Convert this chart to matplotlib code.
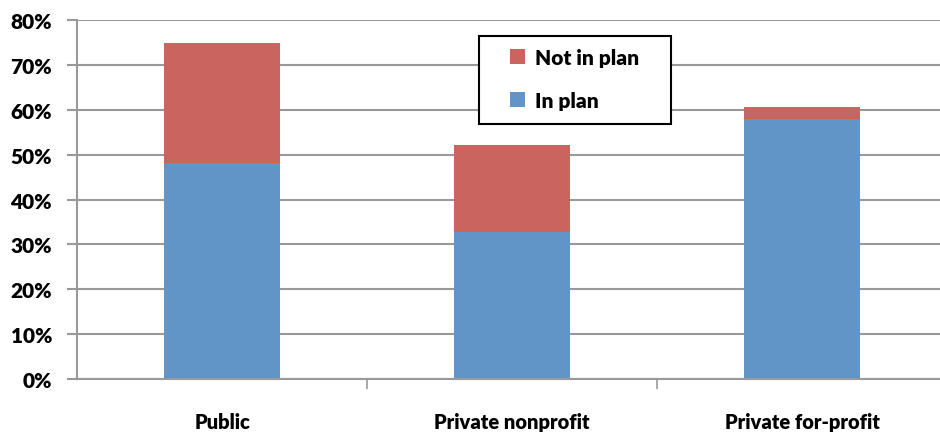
import matplotlib
matplotlib.use("Agg")
import matplotlib.pyplot as plt
from matplotlib.patches import Rectangle
from matplotlib.ticker import FixedLocator, PercentFormatter

categories = ["Public", "Private nonprofit", "Private for-profit"]
in_plan = [48.1, 32.7, 58.0]
not_in_plan = [26.8, 19.4, 2.6]
yticks = [0, 10, 20, 30, 40, 50, 60, 70, 80]

RED = "#C9645F"
BLUE = "#6194C7"
GRID = "#999999"

plt.rcParams["font.family"] = ["Lato", "DejaVu Sans"]
plt.rcParams["font.weight"] = "heavy"

W, H = 940, 435
fig = plt.figure(figsize=(W / 100, H / 100), dpi=100)
ax = fig.add_axes([77 / W, 1 - 380 / H, 870 / W, 359 / H])

x = range(len(categories))
b1 = ax.bar(x, in_plan, width=0.4, color=BLUE, label="In plan", zorder=3)
b2 = ax.bar(x, not_in_plan, width=0.4, bottom=in_plan, color=RED,
            label="Not in plan", zorder=3)

ax.set_xlim(-0.5, len(categories) - 0.5)
ax.set_ylim(0, 80)
ax.set_yticks(yticks)
ax.yaxis.set_major_formatter(PercentFormatter(decimals=0))
ax.grid(axis="y", color=GRID, linewidth=1.5, zorder=0)

for s in ["top", "right"]:
    ax.spines[s].set_visible(False)
for s in ["left", "bottom"]:
    ax.spines[s].set_color(GRID)
    ax.spines[s].set_linewidth(1.5)
    ax.spines[s].set_zorder(4)

ax.set_xticks(list(x))
ax.set_xticklabels(categories)
ax.xaxis.set_minor_locator(FixedLocator([0.5, 1.5]))
ax.tick_params(axis="x", which="major", length=0, pad=24, labelsize=14.5)
ax.tick_params(axis="x", which="minor", length=7, width=1.2, color=GRID)
ax.tick_params(axis="y", length=7, width=1.5, color=GRID, pad=11, labelsize=15)

# legend box (pixel coords of the reference -> figure fraction)
box = Rectangle((479 / W, 1 - 125 / H), 192 / W, 88.3 / H,
                transform=fig.transFigure, facecolor="white",
                edgecolor="black", linewidth=1.5, zorder=5)
fig.add_artist(box)
leg = fig.legend([b2, b1], ["Not in plan", "In plan"], loc="upper left",
                 bbox_to_anchor=(510 / W, 1 - 49 / H), frameon=False,
                 fontsize=15, handlelength=0.7, handleheight=0.7,
                 labelspacing=1.15, borderpad=0, handletextpad=0.5,
                 borderaxespad=0)
leg.set_zorder(6)
for t in leg.get_texts():
    t.set_fontweight("heavy")

fig.savefig("out.png", dpi=100)
